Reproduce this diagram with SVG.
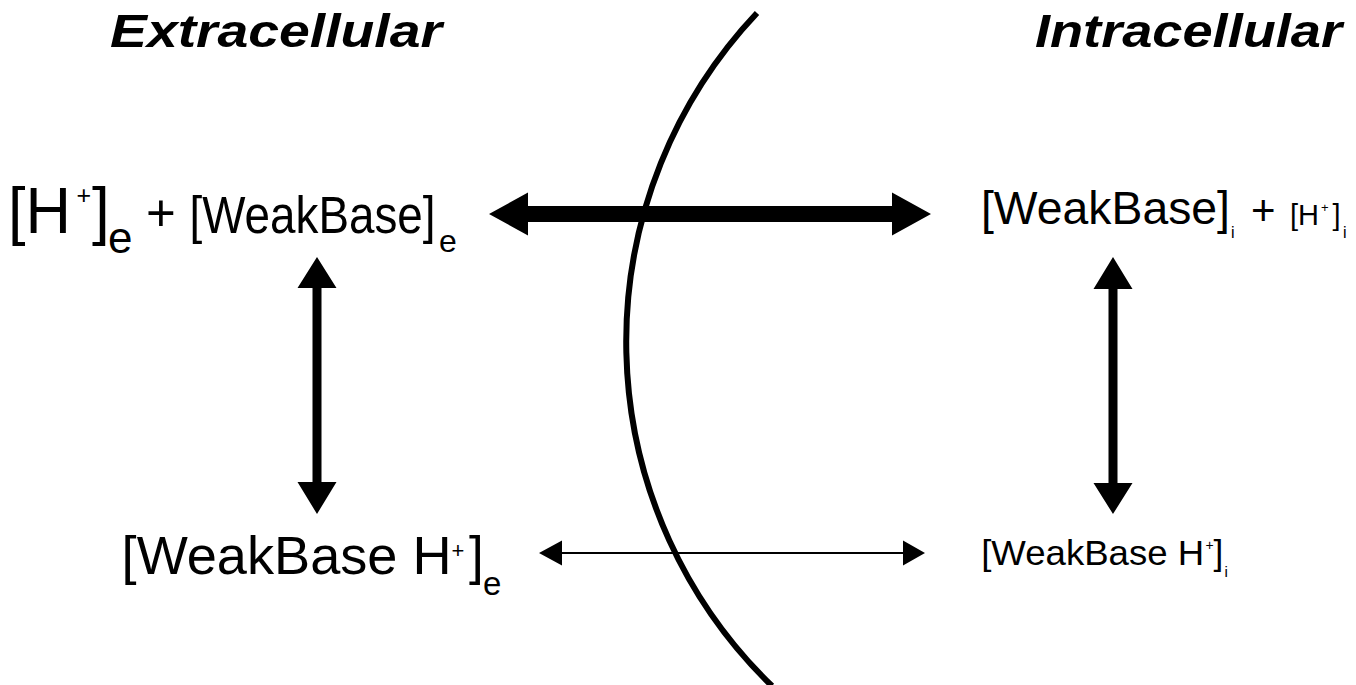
<svg xmlns="http://www.w3.org/2000/svg" width="1356" height="685" viewBox="0 0 1356 685">
  <style>
    .t { font-family: "Liberation Sans", Arial, sans-serif; fill: #000; }
    .title { font-family: "Liberation Sans", Arial, sans-serif; font-weight: bold; font-style: italic; font-size: 47px; fill: #000; }
    .arrow { fill: #000; stroke: none; }
    .membrane { fill: none; stroke: #000; stroke-width: 6; }
  </style>
  <rect width="1356" height="685" fill="#fff"/>

  <g id="title-extracellular">
    <text class="title" x="110" y="47" textLength="332" lengthAdjust="spacingAndGlyphs">Extracellular</text>
  </g>
  <g id="title-intracellular">
    <text class="title" x="1035" y="47" textLength="307" lengthAdjust="spacingAndGlyphs">Intracellular</text>
  </g>

  <g id="membrane">
    <path class="membrane" d="M757,13 A479,479 0 0 0 772,686"/>
  </g>

  <g id="connectors">
    <path class="arrow" d="M489,214 L528,192.5 L528,206 L892,206 L892,192.5 L931,214 L892,235.5 L892,222 L528,222 L528,235.5 Z"/>
    <path class="arrow" d="M539,553 L562,540.5 L562,552 L903,552 L903,540.5 L925,553 L903,565.5 L903,554 L562,554 L562,565.5 Z"/>
    <path class="arrow" d="M317,257 L336.5,288 L321.5,288 L321.5,482 L336.5,482 L317,514 L297.5,482 L312.5,482 L312.5,288 L297.5,288 Z"/>
    <path class="arrow" d="M1113,257 L1132.5,289 L1117.5,289 L1117.5,483 L1132.5,483 L1113,514 L1093.5,483 L1108.5,483 L1108.5,289 L1093.5,289 Z"/>
  </g>

  <g id="node-extra-free">
    <text class="t" x="8" y="233" font-size="64" textLength="63" lengthAdjust="spacingAndGlyphs">[H</text>
    <text class="t" x="76.5" y="204" font-size="25">+</text>
    <text class="t" x="92" y="233" font-size="64">]</text>
    <text class="t" x="108" y="253" font-size="44">e</text>
    <text class="t" x="146" y="231" font-size="51">+</text>
    <text class="t" x="189.5" y="233" font-size="51" textLength="246" lengthAdjust="spacingAndGlyphs">[WeakBase]</text>
    <text class="t" x="439" y="251.5" font-size="32">e</text>
  </g>

  <g id="node-intra-free">
    <text class="t" x="981" y="224" font-size="46.5" textLength="249" lengthAdjust="spacingAndGlyphs">[WeakBase]</text>
    <text class="t" x="1231" y="238" font-size="16">i</text>
    <text class="t" x="1251" y="225" font-size="42">+</text>
    <text class="t" x="1290" y="225" font-size="29">[H</text>
    <text class="t" x="1321" y="211.5" font-size="13">+</text>
    <text class="t" x="1332.4" y="225" font-size="29">]</text>
    <text class="t" x="1343" y="238" font-size="16">i</text>
  </g>

  <g id="node-extra-bound">
    <text class="t" x="121.6" y="574" font-size="53" textLength="330" lengthAdjust="spacingAndGlyphs">[WeakBase H</text>
    <text class="t" x="451.5" y="557.5" font-size="22">+</text>
    <text class="t" x="469" y="574" font-size="53">]</text>
    <text class="t" x="483" y="595" font-size="33">e</text>
  </g>

  <g id="node-intra-bound">
    <text class="t" x="981.2" y="565" font-size="35" textLength="223" lengthAdjust="spacingAndGlyphs">[WeakBase H</text>
    <text class="t" x="1205.5" y="550" font-size="14">+</text>
    <text class="t" x="1213.5" y="565" font-size="35">]</text>
    <text class="t" x="1224.5" y="577" font-size="15">i</text>
  </g>
</svg>
